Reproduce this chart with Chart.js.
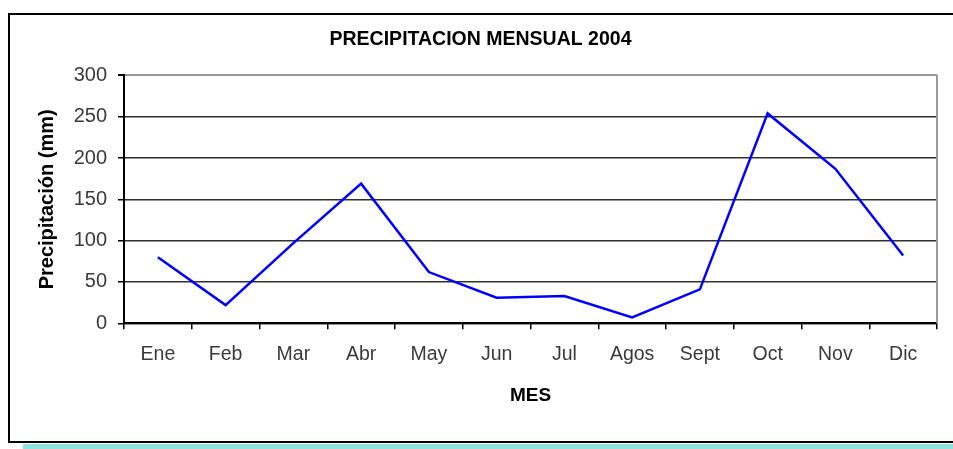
<!DOCTYPE html>
<html><head><meta charset="utf-8">
<script src="https://cdn.jsdelivr.net/npm/chart.js@4/dist/chart.umd.min.js"></script>
<style>
html,body{margin:0;padding:0;background:#fff;width:953px;height:449px;overflow:hidden;}
#frame{position:absolute;left:8px;top:13px;width:960px;height:426px;border-left:2px solid #000;border-top:2px solid #000;border-bottom:2px solid #000;}
#band{position:absolute;left:23px;top:444px;width:940px;height:5px;background:#8fe3dc;}
#wrap{position:absolute;left:0;top:0;width:953px;height:449px;}
</style></head><body>
<div id="frame"></div><div id="band"></div>
<div id="wrap"><canvas id="c"></canvas></div>
<script>
const months = ['Ene','Feb','Mar','Abr','May','Jun','Jul','Agos','Sept','Oct','Nov','Dic'];
const precipitation = [80, 22, 97, 169, 62, 31, 33, 7, 41, 254, 187, 82];
const yMin = 0, yMax = 300, yStep = 50;
const chartTitle = 'PRECIPITACION MENSUAL 2004';
const xTitle = 'MES';
const yTitle = 'Precipitación (mm)';

const FONT = "'Liberation Sans', Arial, sans-serif";

const rightBorder = {
  id: 'rightBorder',
  afterDraw(chart) {
    const {ctx, chartArea: a} = chart;
    ctx.save();
    ctx.strokeStyle = '#9a9a9a';
    ctx.lineWidth = 2;
    ctx.beginPath();
    ctx.moveTo(a.right, a.top - 1);
    ctx.lineTo(a.right, a.bottom);
    ctx.stroke();
    ctx.restore();
  }
};

new Chart(document.getElementById('c'), {
  type: 'line',
  data: {
    labels: months,
    datasets: [{
      data: precipitation,
      borderColor: '#0000ff',
      borderWidth: 2.5,
      pointRadius: 0,
      tension: 0,
      fill: false
    }]
  },
  plugins: [rightBorder],
  options: {
    responsive: true,
    maintainAspectRatio: false,
    animation: false,
    events: [],
    layout: { padding: { left: 24, right: 16, top: 0, bottom: 25.7 } },
    plugins: {
      legend: { display: false },
      tooltip: { enabled: false },
      title: {
        display: true,
        text: chartTitle,
        color: '#000',
        font: { family: FONT, size: 19.5, weight: 'bold', lineHeight: 1.2 },
        padding: { top: 28, bottom: 24 }
      }
    },
    scales: {
      x: {
        offset: true,
        grid: {
          offset: true,
          drawOnChartArea: false,
          drawTicks: true,
          tickLength: 6,
          tickColor: '#000',
          color: '#000',
          lineWidth: 1.5
        },
        border: { display: true, color: '#000', width: 2 },
        ticks: {
          color: '#3a3a3a',
          padding: 14,
          maxRotation: 0,
          autoSkip: false,
          font: { family: FONT, size: 19.5 }
        },
        title: {
          display: true,
          text: xTitle,
          color: '#000',
          font: { family: FONT, size: 19, weight: 'bold', lineHeight: 1.2 },
          padding: { top: 0, bottom: 16 }
        },
        afterFit(scale) { scale.height = 100; }
      },
      y: {
        min: yMin,
        max: yMax,
        ticks: {
          stepSize: yStep,
          color: '#3a3a3a',
          padding: 11,
          font: { family: FONT, size: 20 }
        },
        grid: {
          color: (c) => c.tick && c.tick.value === yMax ? '#9a9a9a' : '#303030',
          lineWidth: (c) => c.tick && c.tick.value === yMax ? 2 : 1.5,
          tickColor: '#000',
          tickLength: 6,
          drawTicks: true
        },
        border: { display: true, color: '#000', width: 2 },
        title: {
          display: true,
          text: yTitle,
          color: '#000',
          font: { family: FONT, size: 20, weight: 'bold', lineHeight: 1.2 },
          padding: { top: 11, bottom: 0 }
        },
        afterFit(scale) { scale.width = 100; }
      }
    }
  }
});
</script>
</body></html>
